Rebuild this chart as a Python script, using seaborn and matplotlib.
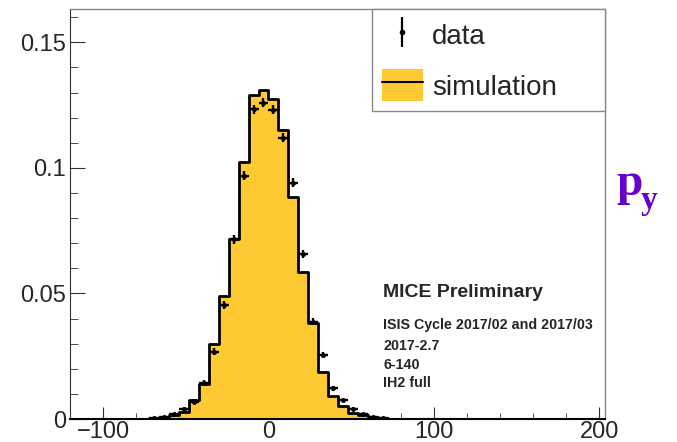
import numpy as np
import matplotlib
matplotlib.use('Agg')
import matplotlib.pyplot as plt
from matplotlib.ticker import MultipleLocator
from matplotlib.patches import Patch
from matplotlib.lines import Line2D
import seaborn as sns

# bin centres (bin width 6) and normalised contents
bin_centers = [-69, -63, -57, -51, -45, -39, -33, -27, -21, -15, -9, -3,
               3, 9, 15, 21, 27, 33, 39, 45, 51, 57, 63, 69]
sim_frac = [0.0002, 0.0005, 0.0016, 0.0027, 0.0076, 0.0139, 0.0298, 0.0491,
            0.0717, 0.1025, 0.1290, 0.1310, 0.1275, 0.1150, 0.0886, 0.0584,
            0.0381, 0.0189, 0.0092, 0.0052, 0.0025, 0.0016, 0.0009, 0.0003]
data_frac = [0.0004, 0.0007, 0.0019, 0.0039, 0.0069, 0.0142, 0.0268, 0.0454,
             0.0716, 0.0969, 0.1234, 0.1260, 0.1231, 0.1121, 0.0941, 0.0657,
             0.0388, 0.0255, 0.0122, 0.0076, 0.0040, 0.0020, 0.0009, 0.0005]
data_err = [0.0003, 0.0004, 0.0005, 0.0007, 0.0009, 0.0012, 0.0014, 0.0016,
            0.0017, 0.0018, 0.0018, 0.0018, 0.0018, 0.0018, 0.0017, 0.0016,
            0.0014, 0.0012, 0.0010, 0.0008, 0.0007, 0.0005, 0.0004, 0.0003]

yellow = '#fec932'
purple = '#6600cc'

sns.set_style('ticks')
plt.rcParams['font.family'] = ['Liberation Sans', 'DejaVu Sans']

fig = plt.figure(figsize=(6.77, 4.42), dpi=100)
ax = fig.add_axes([70/677, 23/442, 535/677, 410/442])

# simulation as filled step histogram
sns.histplot(x=bin_centers, weights=sim_frac, binwidth=6, binrange=(-72, 72),
             element='step', fill=True, color=yellow, alpha=1,
             edgecolor='black', linewidth=2, ax=ax)

# data points with error bars
ax.errorbar(bin_centers, data_frac, yerr=data_err, xerr=3, fmt='o', ms=2.5,
            color='black', elinewidth=1.7, capsize=0, zorder=5)

ax.set_xlim(-120, 203.5)
ax.set_ylim(0, 0.1633)
ax.set_xlabel('')
ax.set_ylabel('')
ax.set_xticks([-100, 0, 100, 200])
ax.xaxis.set_minor_locator(MultipleLocator(20))
ax.set_yticks([0, 0.05, 0.1, 0.15])
ax.set_yticklabels(['0', '0.05', '0.1', '0.15'])
ax.yaxis.set_minor_locator(MultipleLocator(0.01))
ax.tick_params(axis='both', which='both', direction='in', labelsize=17, color='#333333')
ax.tick_params(axis='y', which='major', length=10.8, pad=3)
ax.tick_params(axis='y', which='minor', length=5.5)
ax.tick_params(axis='x', which='major', length=8.5, pad=1.5)
ax.tick_params(axis='x', which='minor', length=4.5)
for s in ['top', 'right']:
    ax.spines[s].set_color('#888888')
    ax.spines[s].set_linewidth(1)
ax.spines['left'].set_color('#333333')
ax.spines['bottom'].set_color('black')
ax.spines['bottom'].set_linewidth(1.5)

# legend
h_data = (Line2D([], [], marker='|', ms=22, mew=1.6, color='black', ls='none'),
          Line2D([], [], marker='o', ms=3, color='black', ls='none'))
h_sim = (Patch(facecolor=yellow, edgecolor='none'),
         Line2D([], [], color='black', lw=1.5))
leg = fig.legend([h_data, h_sim], ['data', 'simulation'], loc='upper left',
                 bbox_to_anchor=(372/677, 330/442, 233/677, 103/442), mode='expand',
                 fontsize=20, frameon=True, fancybox=False, framealpha=1,
                 edgecolor='#888888', borderpad=0.36, borderaxespad=0,
                 handlelength=1.47, handleheight=1.4, handletextpad=0.32,
                 labelspacing=0.66)
leg.get_frame().set_linewidth(1)

# annotation text
fig.text(383/677, (442-296.7)/442, 'MICE Preliminary', fontsize=14,
         fontweight='bold', va='baseline')
lines = ['ISIS Cycle 2017/02 and 2017/03', '2017-2.7', '6-140', 'IH2 full']
ys = [329.3, 350, 369, 387.3]
for t, y in zip(lines, ys):
    fig.text(383/677, (442-y)/442, t, fontsize=10.3, fontweight='bold', va='baseline')

fig.text(616/677, (442-195)/442, 'p', fontsize=34, fontweight='bold',
         color=purple, family='Liberation Serif', va='baseline')
fig.text(641/677, (442-209)/442, 'y', fontsize=24, fontweight='bold',
         color=purple, family='Liberation Serif', va='baseline')

fig.savefig('out.png', dpi=100)
